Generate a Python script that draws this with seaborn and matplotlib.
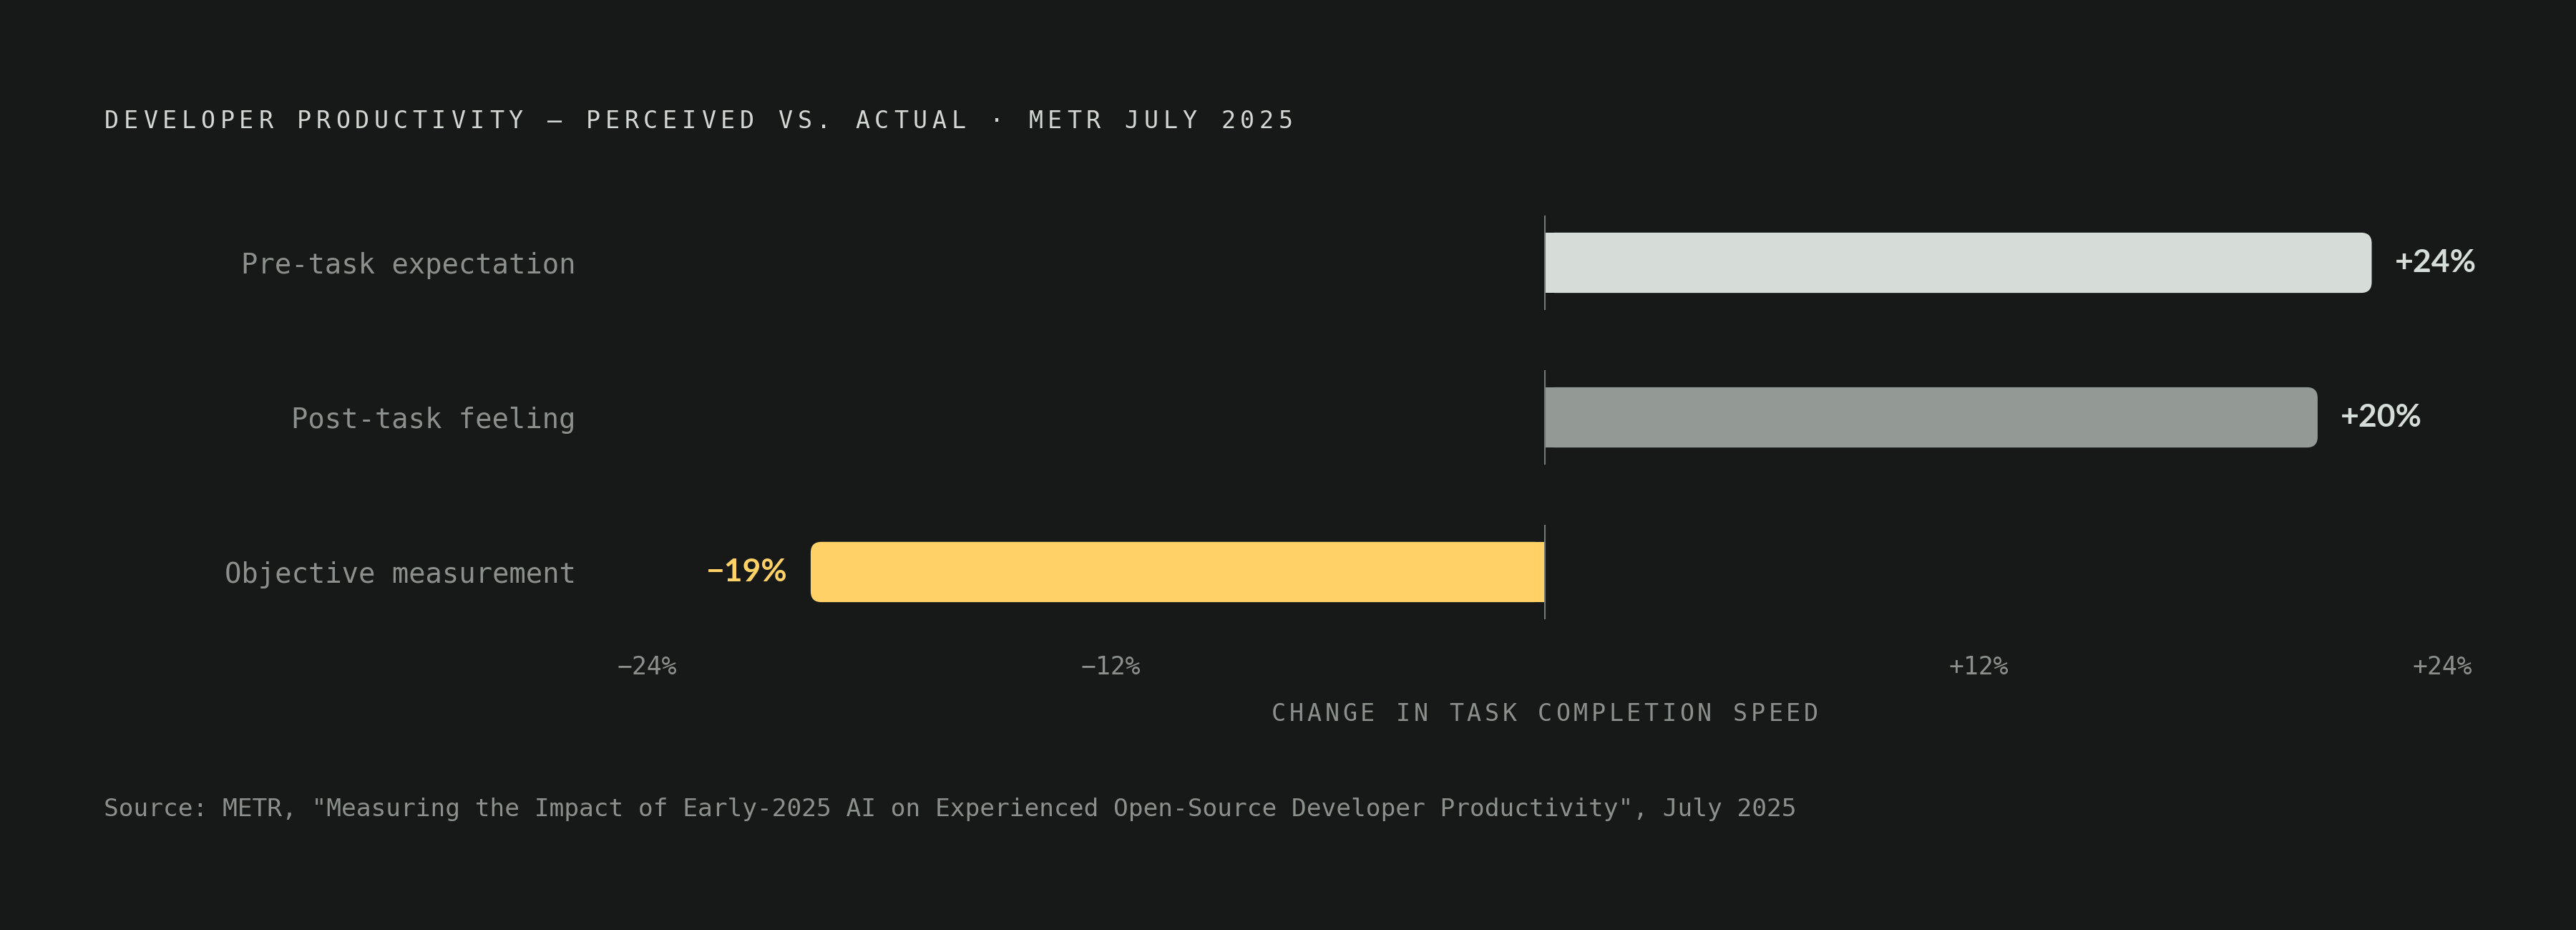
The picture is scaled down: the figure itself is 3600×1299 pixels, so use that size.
import numpy as np
import pandas as pd
import matplotlib
matplotlib.use("Agg")
import matplotlib.pyplot as plt
from matplotlib.patches import FancyBboxPatch, Rectangle
import seaborn as sns

# Data
categories = ["Pre-task expectation", "Post-task feeling", "Objective measurement"]
values = [24, 20, -19]
value_labels = ["+24%", "+20%", "\u221219%"]
tick_values = [-24, -12, 12, 24]
tick_labels = ["\u221224%", "\u221212%", "+12%", "+24%"]

title = "DEVELOPER PRODUCTIVITY \u2014 PERCEIVED VS. ACTUAL \u00b7 METR JULY 2025"
axis_title = "CHANGE IN TASK COMPLETION SPEED"
source = ('Source: METR, "Measuring the Impact of Early-2025 AI on Experienced '
          'Open-Source Developer Productivity", July 2025')

# Styling
BG = "#161918"
bar_colors = ["#d6dcd8", "#939995", "#ffd166"]
label_colors = ["#d6dcd8", "#d6dcd8", "#ffd166"]
TITLE_C = "#d2d7d3"
MUTED = "#8b908c"
ZERO_C = "#737975"
MONO = "DejaVu Sans Mono"
BAR_LIMIT = 21.4  # the longest bar is clipped so its label still fits

W, H = 3600, 1299
AX = [0.2397, 0.3018, 0.72, 0.4988]

sns.set_theme(style="dark")
plt.rcParams["font.family"] = [MONO, "DejaVu Sans"]

fig = plt.figure(figsize=(W / 100, H / 100), dpi=100, facecolor=BG)
ax = fig.add_axes(AX)
ax.set_facecolor(BG)

df = pd.DataFrame({"category": categories,
                   "bar": np.clip(values, -BAR_LIMIT, BAR_LIMIT)})
sns.barplot(data=df, x="bar", y="category", hue="category", palette=bar_colors,
            orient="h", width=0.39, saturation=1, legend=False, ax=ax)

ax.set_xlim(-24, 24)
ax.set_ylim(2.5, -0.5)

# rounded far end, square end at zero
px_x = W * AX[2] / 48
px_y = H * AX[3] / 3
rx = 15 / px_x
for patch in list(ax.patches):
    x, y = patch.get_x(), patch.get_y()
    w, h = patch.get_width(), patch.get_height()
    c = patch.get_facecolor()
    patch.remove()
    x0, x1 = min(x, x + w), max(x, x + w)
    ax.add_patch(FancyBboxPatch((x0, y), x1 - x0, h,
                                boxstyle=f"round,pad=0,rounding_size={rx}",
                                mutation_aspect=px_x / px_y,
                                fc=c, ec="none", zorder=2))
    half = (x0 + x1) / 2
    if w > 0:
        ax.add_patch(Rectangle((x0, y), half - x0, h, fc=c, ec="none", zorder=2))
    else:
        ax.add_patch(Rectangle((half, y), x1 - half, h, fc=c, ec="none", zorder=2))

# zero line segments per row
for i in range(len(categories)):
    ax.vlines(0, i - 0.305, i + 0.305, colors=ZERO_C, lw=1.5, zorder=3)

# value labels
for i, (v, lab) in enumerate(zip(values, value_labels)):
    end = float(np.clip(v, -BAR_LIMIT, BAR_LIMIT))
    ax.annotate(lab, (end, i), xytext=(23 if v > 0 else -23, 0),
                textcoords="offset points", ha="left" if v > 0 else "right",
                va="center", fontsize=32, fontweight="bold", family="Lato",
                color=label_colors[i], zorder=4)

ax.set_xticks(tick_values, tick_labels)
for lbl, v in zip(ax.get_xticklabels(), tick_values):
    lbl.set_ha("left" if v < 0 else "right")
ax.tick_params(axis="x", length=0, pad=6, labelsize=25, labelcolor=MUTED)
ax.tick_params(axis="y", length=0, pad=42, labelsize=28, labelcolor=MUTED)
ax.set_xlabel("")
ax.set_ylabel("")
ax.grid(False)
for s in ax.spines.values():
    s.set_visible(False)


def tracked(text, first_center_px, baseline_px, step_px, **kw):
    for k, ch in enumerate(text):
        if ch != " ":
            fig.text((first_center_px + k * step_px) / W, 1 - baseline_px / H, ch,
                     ha="center", va="baseline", **kw)


tracked(title, 156, 179, 26.9, fontsize=24, color=TITLE_C)

zero_px = W * (AX[0] + AX[2] * 0.5)
step = 24.8
tracked(axis_title, zero_px - step * (len(axis_title) - 1) / 2, 1007, step,
        fontsize=24, color=MUTED)

fig.text(145 / W, 1 - 1140 / H, source, fontsize=24.8, color=MUTED,
         ha="left", va="baseline")

fig.savefig("out.png", dpi=100, facecolor=BG)
